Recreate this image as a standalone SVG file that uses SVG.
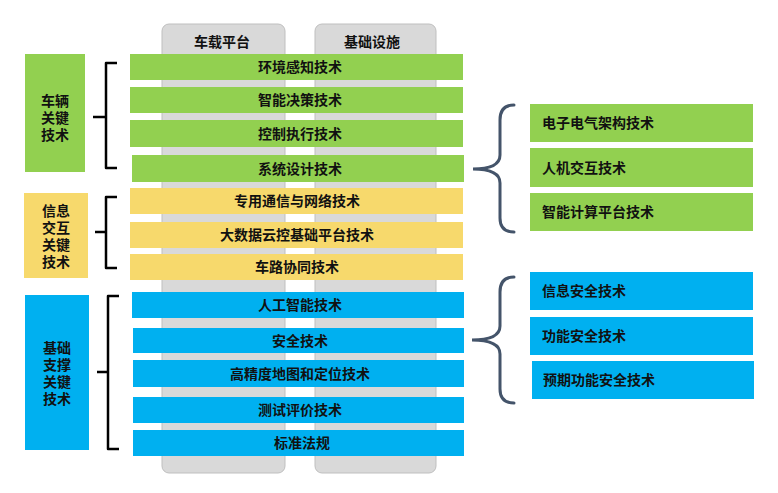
<svg xmlns="http://www.w3.org/2000/svg" width="778" height="493" viewBox="0 0 778 493">
<style>
text{font-family:"Liberation Sans","Noto Sans CJK SC",sans-serif;font-weight:bold;fill:#111;font-size:14px}
.col{fill:#D9D9D9;stroke:#BFBFBF;stroke-width:1}
.g{fill:#92D050}
.y{fill:#F7D96C}
.b{fill:#00B0F0}
.c{text-anchor:middle;dominant-baseline:central}
.l{dominant-baseline:central}
.br{fill:none;stroke:#000;stroke-width:2.5;stroke-linejoin:round}
.rb{fill:none;stroke:#44546A;stroke-width:3;stroke-linecap:round}
</style>
<rect width="778" height="493" fill="#fff"/>
<g id="col-vehicle"><rect class="col" x="162" y="24" width="123" height="449" rx="7"/><text class="c" x="222" y="42">车载平台</text></g>
<g id="col-infra"><rect class="col" x="315" y="24" width="121" height="449" rx="7"/><text class="c" x="372" y="42">基础设施</text></g>

<g id="bar1"><rect class="g" x="130" y="54" width="333" height="26"/><text class="c" x="300" y="67">环境感知技术</text></g>
<g id="bar2"><rect class="g" x="130" y="87" width="333" height="26"/><text class="c" x="300" y="100">智能决策技术</text></g>
<g id="bar3"><rect class="g" x="130" y="120" width="333" height="27"/><text class="c" x="300" y="133.5">控制执行技术</text></g>
<g id="bar4"><rect class="g" x="132" y="155" width="332" height="27"/><text class="c" x="300" y="168.5">系统设计技术</text></g>
<g id="bar5"><rect class="y" x="130" y="188" width="333" height="26"/><text class="c" x="297" y="201">专用通信与网络技术</text></g>
<g id="bar6"><rect class="y" x="130" y="222" width="333" height="26"/><text class="c" x="297" y="235">大数据云控基础平台技术</text></g>
<g id="bar7"><rect class="y" x="130" y="254" width="333" height="26"/><text class="c" x="297" y="267">车路协同技术</text></g>
<g id="bar8"><rect class="b" x="132" y="292" width="332" height="26"/><text class="c" x="300" y="305">人工智能技术</text></g>
<g id="bar9"><rect class="b" x="133" y="328" width="331" height="25"/><text class="c" x="300" y="340.5">安全技术</text></g>
<g id="bar10"><rect class="b" x="133" y="360" width="331" height="27"/><text class="c" x="300" y="373.5">高精度地图和定位技术</text></g>
<g id="bar11"><rect class="b" x="133" y="397" width="331" height="26"/><text class="c" x="300" y="410">测试评价技术</text></g>
<g id="bar12"><rect class="b" x="133" y="430" width="331" height="26"/><text class="c" x="302" y="443">标准法规</text></g>

<g id="cat-vehicle"><rect class="g" x="25" y="54" width="60" height="118"/><text class="c" x="55" y="101">车辆</text><text class="c" x="55" y="118">关键</text><text class="c" x="55" y="135">技术</text></g>
<g id="cat-info"><rect class="y" x="24" y="193" width="64" height="85"/><text class="c" x="56" y="211">信息</text><text class="c" x="56" y="228">交互</text><text class="c" x="56" y="245">关键</text><text class="c" x="56" y="262">技术</text></g>
<g id="cat-base"><rect class="b" x="25" y="295" width="64" height="155"/><text class="c" x="57" y="348">基础</text><text class="c" x="57" y="365">支撑</text><text class="c" x="57" y="382">关键</text><text class="c" x="57" y="399">技术</text></g>

<g id="r1"><rect class="g" x="530" y="104" width="223" height="38"/><text class="l" x="542" y="123">电子电气架构技术</text></g>
<g id="r2"><rect class="g" x="530" y="148" width="223" height="39"/><text class="l" x="542" y="167.5">人机交互技术</text></g>
<g id="r3"><rect class="g" x="530" y="193" width="223" height="38"/><text class="l" x="542" y="212">智能计算平台技术</text></g>
<g id="r4"><rect class="b" x="530" y="272" width="223" height="38"/><text class="l" x="542" y="291">信息安全技术</text></g>
<g id="r5"><rect class="b" x="530" y="317" width="223" height="38"/><text class="l" x="542" y="336">功能安全技术</text></g>
<g id="r6"><rect class="b" x="532" y="361" width="222" height="38"/><text class="l" x="543" y="380">预期功能安全技术</text></g>

<g id="connectors">
<path class="br" d="M117,63 H106 V168 H117 M93,117 H106"/>
<path class="br" d="M117,197 H106 V268 H117 M95,232 H106"/>
<path class="br" d="M119,296 H108 V449 H119 M97,372 H108"/>
<path class="rb" d="M514,105 Q500,105 500,120 L500,155 Q500,169 473,169 Q500,169 500,183 L500,218 Q500,232 514,232"/>
<path class="rb" d="M514,277 Q500,277 500,292 L500,326 Q500,340 472,340 Q500,340 500,354 L500,389 Q500,403 514,403"/>
</g>
</svg>
